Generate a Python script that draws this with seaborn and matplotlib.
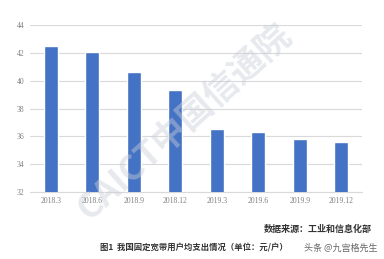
import matplotlib
matplotlib.use("Agg")
import matplotlib.pyplot as plt
import seaborn as sns
import pandas as pd

categories = ["2018.3", "2018.6", "2018.9", "2018.12", "2019.3", "2019.6", "2019.9", "2019.12"]
values = [42.5, 42.1, 40.6, 39.3, 36.5, 36.3, 35.8, 35.6]
yticks = [32, 34, 36, 38, 40, 42, 44]

sns.set_theme(style="white")
plt.rcParams['font.family'] = ['Noto Sans CJK SC', 'DejaVu Sans']

df = pd.DataFrame({"period": categories, "value": values})

fig = plt.figure(figsize=(3.84, 2.59), dpi=100)
ax = fig.add_axes([0.078, 0.259, 0.865, 0.644])
sns.barplot(data=df, x="period", y="value", color="#4472C4", saturation=1,
            width=0.34, ax=ax, zorder=3)
ax.set_ylim(32, 44)
ax.set_yticks(yticks)
ax.set_yticklabels([str(t) for t in yticks], family="Liberation Serif", fontsize=5.5, color="#7f7f7f")
ax.set_xticklabels(categories, family="Liberation Serif", fontsize=5.5, color="#7f7f7f")
ax.tick_params(axis="both", length=0, pad=4)
ax.set_xlabel("")
ax.set_ylabel("")
ax.grid(axis="y", color="#d9d9d9", linewidth=0.8, zorder=0)
for s in ["top", "right", "left"]:
    ax.spines[s].set_visible(False)
ax.spines["bottom"].set_color("#d9d9d9")
ax.spines["bottom"].set_linewidth(0.8)

fig.text(0.48, 0.53, "CAICT中国信通院", rotation=42, ha="center", va="center",
         fontsize=25, fontweight="bold", color="#c9ced8", alpha=0.45, zorder=10)

fig.text(0.969, 0.115, "数据来源：工业和信息化部", ha="right", va="center",
         fontsize=6.5, fontweight="bold", color="#333333")
fig.text(0.26, 0.042, "图1  我国固定宽带用户均支出情况（单位：元/户）", ha="left", va="center",
         fontsize=6, fontweight="bold", color="#333333")
fig.text(0.983, 0.042, "头条 @九宫格先生", ha="right", va="center",
         fontsize=6.5, color="#666666")

fig.savefig("out.png", dpi=100)
